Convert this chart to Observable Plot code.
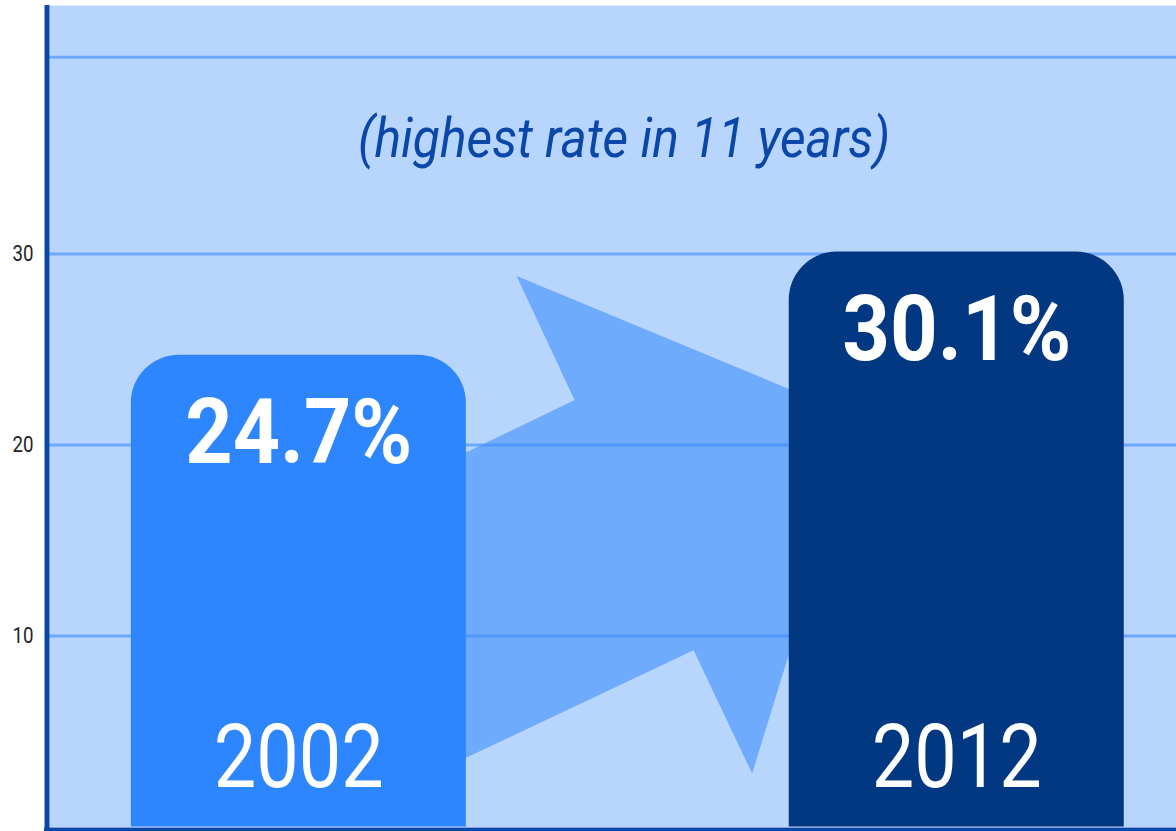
<!DOCTYPE html>
<html>
<head>
<meta charset="utf-8">
<script src="https://cdn.jsdelivr.net/npm/d3@7"></script>
<script src="https://cdn.jsdelivr.net/npm/@observablehq/plot@0.6"></script>
<style>
  html, body { margin: 0; padding: 0; background: #ffffff; }
  #chart svg { display: block; }
</style>
</head>
<body>
<div id="chart"></div>
<script>
// ---- data ----
const years = [2002, 2012];
const rates = [24.7, 30.1];
const yearLabels = ["2002", "2012"];
const rateLabels = ["24.7%", "30.1%"];
const yTicks = [10, 20, 30];
const gridValues = [10, 20, 30, 40.3];
const subtitle = "(highest rate in 11 years)";
// background arrow outline (year, value)
const arrowX = [2002.78, 2006.19, 2005.31, 2010.55, 2008.89, 2008.00, 2002.78];
const arrowY = [16.69, 22.35, 28.85, 21.36, 2.80, 9.25, 0.76];

// ---- styles ----
const barColors = ["#2e86fe", "#023781"];
const bgColor = "#b8d5fd";
const arrowColor = "#6eabfd";
const axisColor = "#0b47a8";
const font = "Roboto, 'Liberation Sans', sans-serif";

const bars = years.map((y, i) => ({year: y, rate: rates[i], yl: yearLabels[i], rl: rateLabels[i]}));
const arrow = arrowX.map((x, i) => ({x, y: arrowY[i]}));
const halfW = 2.546;
const xDomain = [1998.21, 2015.34];

const chart = Plot.plot({
  width: 1176,
  height: 831,
  marginLeft: 49,
  marginRight: 0,
  marginTop: 5,
  marginBottom: 4.5,
  style: {fontFamily: font, background: "#ffffff"},
  x: {domain: xDomain, axis: null},
  y: {domain: [0, 43.01], axis: null},
  color: {type: "ordinal", domain: years, range: barColors},
  marks: [
    Plot.frame({fill: bgColor, stroke: null}),
    Plot.line(arrow, {x: "x", y: "y", fill: arrowColor, stroke: "none"}),
    Plot.ruleY(gridValues, {stroke: "rgb(60,141,252)", strokeOpacity: 0.6, strokeWidth: 3}),
    Plot.rect(bars, {x1: d => d.year - halfW, x2: d => d.year + halfW, y1: -4, y2: "rate", fill: "year", rx: 48, clip: true}),
    Plot.text(bars, {x: "year", y: "rate", text: "rl", fill: "white", fontSize: 90, fontWeight: "bold", lineAnchor: "top", dy: 44}),
    Plot.text(bars, {x: "year", frameAnchor: "bottom", text: "yl", fill: "white", fontSize: 89, lineAnchor: "top", dy: -103}),
    Plot.text([subtitle], {frameAnchor: "top", text: d => d, fill: "#0b47a8", fontSize: 55, fontStyle: "italic", lineAnchor: "top", dy: 112, dx: 11}),
    Plot.ruleY([0], {stroke: axisColor, strokeWidth: 4, dy: 2.5, insetLeft: -5}),
    Plot.ruleX([xDomain[0]], {stroke: axisColor, strokeWidth: 5, dx: -2.5, insetBottom: -6}),
    Plot.axisY({ticks: yTicks, tickSize: 0, tickPadding: 16, fontSize: 22, fill: "#222", label: null})
  ]
});
document.getElementById("chart").append(chart);

// condensed lettering: fit each text group to the reference's widths
function fit(nodes, widths) {
  nodes.forEach((el, i) => {
    el.setAttribute("textLength", widths[i % widths.length]);
    el.setAttribute("lengthAdjust", "spacingAndGlyphs");
  });
}
const textGroups = chart.querySelectorAll('g[aria-label="text"]');
fit([...textGroups[0].querySelectorAll("text")], [227, 229]);
fit([...textGroups[1].querySelectorAll("text")], [170, 170]);
fit([...textGroups[2].querySelectorAll("text")], [532]);
fit([...chart.querySelectorAll('g[aria-label="y-axis tick label"] text')], [21]);
</script>
</body>
</html>
